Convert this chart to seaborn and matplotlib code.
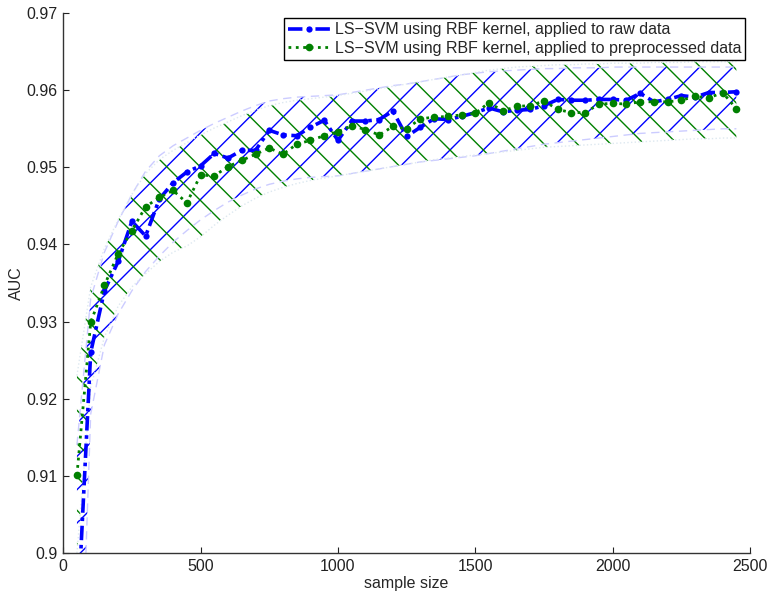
import numpy as np
import pandas as pd
import matplotlib
matplotlib.use("Agg")
import matplotlib.pyplot as plt
import seaborn as sns

# ---------------- data ----------------
sample_size = list(range(50, 2451, 50))

auc_raw = [0.8900, 0.9260, 0.9340, 0.9378, 0.9430, 0.9411, 0.9459, 0.9480, 0.9494, 0.9502,
           0.9518, 0.9512, 0.9522, 0.9522, 0.9548, 0.9542, 0.9541, 0.9552, 0.9561, 0.9535,
           0.9560, 0.9560, 0.9562, 0.9573, 0.9540, 0.9552, 0.9563, 0.9562, 0.9566, 0.9571,
           0.9577, 0.9572, 0.9574, 0.9575, 0.9580, 0.9588, 0.9587, 0.9587, 0.9588, 0.9588,
           0.9587, 0.9596, 0.9585, 0.9588, 0.9593, 0.9591, 0.9597, 0.9597, 0.9598]

auc_pre = [0.9101, 0.9299, 0.9347, 0.9388, 0.9418, 0.9449, 0.9461, 0.9470, 0.9454, 0.9490,
           0.9489, 0.9501, 0.9509, 0.9517, 0.9525, 0.9517, 0.9530, 0.9535, 0.9541, 0.9546,
           0.9554, 0.9549, 0.9542, 0.9553, 0.9550, 0.9563, 0.9565, 0.9566, 0.9568, 0.9570,
           0.9584, 0.9573, 0.9579, 0.9580, 0.9586, 0.9575, 0.9571, 0.9571, 0.9582, 0.9583,
           0.9582, 0.9585, 0.9585, 0.9585, 0.9587, 0.9592, 0.9590, 0.9597, 0.9576]

# confidence band edges (read from the hatched regions)
raw_upper = [0.9140, 0.9330, 0.9390, 0.9430, 0.9465, 0.9495, 0.9515, 0.9528, 0.9538, 0.9548,
             0.9557, 0.9565, 0.9573, 0.9580, 0.9586, 0.9589, 0.9591, 0.9592, 0.9593, 0.9594,
             0.9597, 0.9600, 0.9603, 0.9606, 0.9608, 0.9611, 0.9614, 0.9617, 0.9620, 0.9622,
             0.9624, 0.9625, 0.9626, 0.9627, 0.9628, 0.9628, 0.9629, 0.9629, 0.9629, 0.9630,
             0.9630, 0.9630, 0.9630, 0.9630, 0.9630, 0.9630, 0.9630, 0.9630, 0.9630]
raw_lower = [0.8660, 0.9180, 0.9270, 0.9310, 0.9340, 0.9365, 0.9385, 0.9403, 0.9418, 0.9432,
             0.9444, 0.9455, 0.9464, 0.9472, 0.9478, 0.9482, 0.9485, 0.9487, 0.9488, 0.9489,
             0.9492, 0.9495, 0.9498, 0.9501, 0.9504, 0.9507, 0.9509, 0.9511, 0.9513, 0.9515,
             0.9518, 0.9521, 0.9524, 0.9527, 0.9530, 0.9532, 0.9534, 0.9536, 0.9538, 0.9540,
             0.9542, 0.9544, 0.9545, 0.9546, 0.9547, 0.9548, 0.9549, 0.9550, 0.9550]
pre_upper = [0.9230, 0.9345, 0.9395, 0.9432, 0.9465, 0.9492, 0.9510, 0.9522, 0.9532, 0.9542,
             0.9551, 0.9559, 0.9567, 0.9574, 0.9580, 0.9584, 0.9587, 0.9589, 0.9591, 0.9593,
             0.9596, 0.9599, 0.9602, 0.9605, 0.9608, 0.9611, 0.9614, 0.9617, 0.9620, 0.9623,
             0.9626, 0.9628, 0.9630, 0.9631, 0.9632, 0.9633, 0.9633, 0.9634, 0.9634, 0.9635,
             0.9635, 0.9635, 0.9636, 0.9636, 0.9636, 0.9637, 0.9637, 0.9637, 0.9637]
pre_lower = [0.9000, 0.9215, 0.9280, 0.9320, 0.9345, 0.9362, 0.9378, 0.9390, 0.9398, 0.9410,
             0.9425, 0.9438, 0.9450, 0.9460, 0.9468, 0.9474, 0.9479, 0.9483, 0.9486, 0.9489,
             0.9492, 0.9495, 0.9498, 0.9501, 0.9504, 0.9507, 0.9510, 0.9512, 0.9514, 0.9516,
             0.9518, 0.9520, 0.9522, 0.9524, 0.9526, 0.9527, 0.9528, 0.9529, 0.9530, 0.9531,
             0.9532, 0.9533, 0.9534, 0.9535, 0.9536, 0.9537, 0.9537, 0.9538, 0.9538]

labels = ["LS\u2212SVM using RBF kernel, applied to raw data",
          "LS\u2212SVM using RBF kernel, applied to preprocessed data"]

x_ticks = [0, 500, 1000, 1500, 2000, 2500]
y_ticks = [0.90, 0.91, 0.92, 0.93, 0.94, 0.95, 0.96, 0.97]
y_ticklabels = ["0.9", "0.91", "0.92", "0.93", "0.94", "0.95", "0.96", "0.97"]

# ---------------- style ----------------
sns.set_theme(style="white")
plt.rcParams["font.family"] = ["Liberation Sans", "DejaVu Sans"]
plt.rcParams["hatch.linewidth"] = 1.0

df = pd.DataFrame({"n": sample_size, "raw": auc_raw, "pre": auc_pre,
                   "raw_lo": raw_lower, "raw_hi": raw_upper,
                   "pre_lo": pre_lower, "pre_hi": pre_upper})

fig = plt.figure(figsize=(7.69, 5.94), dpi=100)
ax = fig.add_axes([0.0822, 0.069, 0.8932, 0.909])

blue = "#0000ff"
green = "#008000"

x = df["n"].to_numpy()

ax.fill_between(x, df["raw_lo"], df["raw_hi"], facecolor="none", edgecolor=blue,
                hatch="/", linewidth=0)
ax.fill_between(x, df["pre_lo"], df["pre_hi"], facecolor="none", edgecolor=green,
                hatch="\\", linewidth=0)
for c in ("raw_lo", "raw_hi"):
    ax.plot(x, df[c], color="#ccccff", lw=1.0, ls=(0, (6, 4)))
for c in ("pre_lo", "pre_hi"):
    ax.plot(x, df[c], color="#dde8f0", lw=1.0, ls=":")

sns.lineplot(data=df, x="n", y="raw", ax=ax, color=blue, lw=2.6,
             dashes=False, marker="o", markersize=4.5, markeredgewidth=0,
             label=labels[0])
sns.lineplot(data=df, x="n", y="pre", ax=ax, color=green, lw=2.0,
             dashes=False, marker="o", markersize=5.5, markeredgewidth=0,
             label=labels[1])
ax.lines[-2].set_dashes((4, 1.3, 1, 1.3))
ax.lines[-1].set_linestyle(":")

ax.set_xlim(0, 2500)
ax.set_ylim(0.90, 0.97)
ax.set_xticks(x_ticks)
ax.set_xticklabels([str(t) for t in x_ticks])
ax.set_yticks(y_ticks)
ax.set_yticklabels(y_ticklabels)
ax.tick_params(direction="in", length=4, width=0.8, colors="#222222",
               labelsize=11.5, pad=4, bottom=True, left=True)
ax.set_xlabel("sample size", fontsize=11.5, labelpad=2)
ax.set_ylabel("AUC", fontsize=11.5, labelpad=2)

for s in ("top", "right"):
    ax.spines[s].set_visible(False)
for s in ("left", "bottom"):
    ax.spines[s].set_color("#333333")
    ax.spines[s].set_linewidth(1.0)

h, l = ax.get_legend_handles_labels()
h, l = h[-2:], l[-2:]
leg = ax.legend(h, l, loc="upper right", bbox_to_anchor=(0.993, 0.99),
                fontsize=11.5, frameon=True, fancybox=False, framealpha=1,
                edgecolor="black", borderpad=0.25, labelspacing=0.2,
                handlelength=2.6, handletextpad=0.3, borderaxespad=0)
leg.get_frame().set_linewidth(1.0)

fig.savefig("out.png", dpi=100)
